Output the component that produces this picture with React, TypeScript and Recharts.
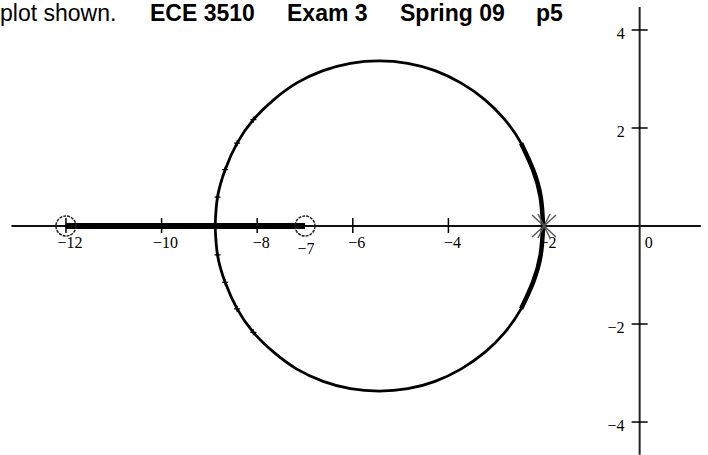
import React from "react";
import { ComposedChart, Line, Scatter, XAxis, YAxis, ReferenceLine } from "recharts";

// root locus of (s+7)(s+12)/(s+2)^2
const zeros = [-12, -7];
const poles = [-2];

const xTicks = [-12, -10, -8, -6, -4, -2];
const xTickLabels = ["\u221212", "\u221210", "\u22128", "\u22126", "\u22124", "\u22122"];
const yTicks = [4, 2, -2, -4];
const yTickLabels = ["4", "2", "\u22122", "\u22124"];

// complex branches (break-in near -8.9, back to the double pole)
const upperArcX = [-8.88, -8.83, -8.67, -8.42, -8.08, -7.65, -7.17, -6.62, -6.05, -5.45, -4.85, -4.28, -3.74, -3.24, -2.82, -2.48, -2.23, -2.07, -2.02];
const upperArcY = [0, 0.59, 1.15, 1.69, 2.17, 2.58, 2.92, 3.17, 3.32, 3.37, 3.32, 3.17, 2.92, 2.58, 2.17, 1.69, 1.15, 0.59, 0];
const lowerArcX = [-8.88, -8.83, -8.67, -8.42, -8.08, -7.65, -7.17, -6.62, -6.05, -5.45, -4.85, -4.28, -3.74, -3.24, -2.82, -2.48, -2.23, -2.07, -2.02];
const lowerArcY = [0, -0.59, -1.15, -1.69, -2.17, -2.58, -2.92, -3.17, -3.32, -3.37, -3.32, -3.17, -2.92, -2.58, -2.17, -1.69, -1.15, -0.59, 0];

// real-axis segment between the two zeros
const realLocusX = [-12, -7];

const toPoints = (xs: number[], ys: number[]) => xs.map((x, i) => ({ x, y: ys[i] }));

const upperArc = toPoints(upperArcX, upperArcY);
const lowerArc = toPoints(lowerArcX, lowerArcY);
const realLocus = realLocusX.map((x) => ({ x, y: 0 }));
const zeroPts = zeros.map((x) => ({ x, y: 0 }));
const polePts = poles.map((x) => ({ x, y: 0 }));
const xTickPts = xTicks.map((x, i) => ({ x, y: 0, label: xTickLabels[i] }));
const yTickPts = yTicks.map((y, i) => ({ x: 0, y, label: yTickLabels[i] }));

const W = 708;
const H = 455;

const tickFont = { fontFamily: "'Liberation Serif', 'DejaVu Serif', serif", fontSize: 16, fill: "#000" };

const NoDot = () => <g />;

// sparse "+" markers where the plotted points spread out near the break-in
const ArcDot = (p: any) =>
  p.index >= 1 && p.index <= 4 ? (
    <path key={p.index} d={`M${p.cx - 3},${p.cy}h6M${p.cx},${p.cy - 3}v6`} stroke="#000" strokeWidth={1.3} />
  ) : (
    <g key={p.index} />
  );

const ZeroMark = (p: any) => (
  <circle cx={p.cx} cy={p.cy} r={10} fill="none" stroke="#222" strokeWidth={1.5} strokeDasharray="3 1" />
);

const PoleMark = (p: any) => (
  <g stroke="#555" strokeWidth={1.4}>
    <line x1={p.cx - 12} y1={p.cy - 11} x2={p.cx + 12} y2={p.cy + 11} />
    <line x1={p.cx - 12} y1={p.cy + 11} x2={p.cx + 12} y2={p.cy - 11} />
    <line x1={p.cx - 6} y1={p.cy - 12} x2={p.cx + 6} y2={p.cy + 12} />
    <line x1={p.cx - 6} y1={p.cy + 12} x2={p.cx + 6} y2={p.cy - 12} />
  </g>
);

const XTick = (p: any) => (
  <g>
    <line x1={p.cx} x2={p.cx} y1={p.cy - 8} y2={p.cy + 7} stroke="#000" strokeWidth={1.5} />
    <text x={p.cx + 4} y={p.cy + 22} textAnchor="middle" {...tickFont}>
      {p.payload.label}
    </text>
  </g>
);

const YTick = (p: any) => (
  <g>
    <line x1={p.cx - 8} x2={p.cx + 8} y1={p.cy} y2={p.cy} stroke="#000" strokeWidth={1.5} />
    <text x={p.cx - 15} y={p.cy + 9} textAnchor="end" {...tickFont}>
      {p.payload.label}
    </text>
  </g>
);

const SevenLabel = (p: any) => (
  <text x={p.cx + 1} y={p.cy + 28} textAnchor="middle" {...tickFont}>
    {"\u22127"}
  </text>
);

const OriginLabel = (p: any) => (
  <text x={p.cx + 5} y={p.cy + 22} textAnchor="start" {...tickFont}>
    0
  </text>
);

const titleStyle: React.CSSProperties = {
  position: "absolute",
  top: 0,
  fontFamily: "'Liberation Sans', Arial, sans-serif",
  fontSize: 23,
  color: "#000",
  whiteSpace: "pre",
  lineHeight: "normal",
};

export default function App() {
  return (
    <div style={{ position: "absolute", left: 0, top: 0, width: W, height: H, background: "#fff", overflow: "hidden" }}>
      <ComposedChart width={W} height={H} margin={{ top: 0, right: 0, bottom: 0, left: 0 }}>
        <XAxis type="number" dataKey="x" domain={[-13.38, 1.43]} allowDataOverflow hide />
        <YAxis type="number" dataKey="y" domain={[-4.673, 4.612]} allowDataOverflow hide />

        <ReferenceLine segment={[{ x: -13.14, y: 0 }, { x: 1.28, y: 0 }]} stroke="#111" strokeWidth={2} />
        <ReferenceLine segment={[{ x: 0, y: 4.47 }, { x: 0, y: -4.67 }]} stroke="#222" strokeWidth={2} />

        <Scatter data={xTickPts} shape={XTick} isAnimationActive={false} />
        <Scatter data={yTickPts} shape={YTick} isAnimationActive={false} />
        <Scatter data={[zeroPts[1]]} shape={SevenLabel} isAnimationActive={false} />
        <Scatter data={[{ x: 0, y: 0 }]} shape={OriginLabel} isAnimationActive={false} />

        <Scatter data={realLocus} line={{ stroke: "#000", strokeWidth: 6 }} shape={NoDot} isAnimationActive={false} />
        <Line data={upperArc} dataKey="y" type="natural" stroke="#000" strokeWidth={2.8} dot={ArcDot} activeDot={false} isAnimationActive={false} />
        <Line data={lowerArc} dataKey="y" type="natural" stroke="#000" strokeWidth={2.8} dot={ArcDot} activeDot={false} isAnimationActive={false} />
        <Line data={upperArc.slice(-4)} dataKey="y" type="natural" stroke="#000" strokeWidth={4.5} dot={false} activeDot={false} isAnimationActive={false} />
        <Line data={lowerArc.slice(-4)} dataKey="y" type="natural" stroke="#000" strokeWidth={4.5} dot={false} activeDot={false} isAnimationActive={false} />

        <Scatter data={zeroPts} shape={ZeroMark} isAnimationActive={false} />
        <Scatter data={polePts} shape={PoleMark} isAnimationActive={false} />
      </ComposedChart>

      <div style={{ ...titleStyle, left: 0 }}>plot shown.</div>
      <div style={{ ...titleStyle, left: 150, fontWeight: "bold" }}>ECE 3510</div>
      <div style={{ ...titleStyle, left: 287, fontWeight: "bold" }}>Exam 3</div>
      <div style={{ ...titleStyle, left: 400, fontWeight: "bold" }}>Spring 09</div>
      <div style={{ ...titleStyle, left: 536, fontWeight: "bold" }}>p5</div>
    </div>
  );
}
